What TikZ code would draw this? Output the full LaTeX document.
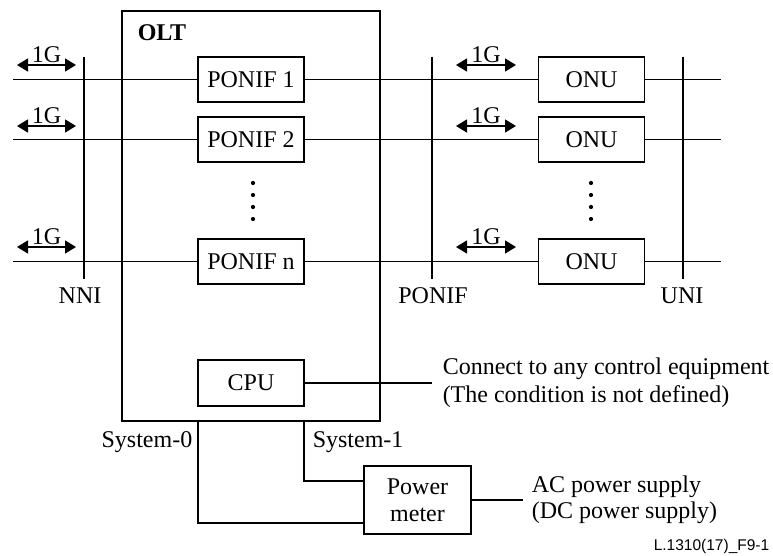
\documentclass[tikz,border=0pt]{standalone}
\usepackage{fontspec}
\setmainfont{Liberation Serif}
\newfontfamily\figfont{Liberation Sans}
\usetikzlibrary{arrows.meta}

\begin{document}
\begin{tikzpicture}
[x=1pt, y=-1pt, line width=1.5pt,
 every node/.style={inner sep=0pt, font=\fontsize{24}{28}\selectfont},
 unit/.style={rectangle, draw=black, line width=1.5pt, minimum width=106pt, minimum height=45pt},
 rate/.style={{Triangle[length=11pt,width=13pt]}-{Triangle[length=11pt,width=13pt]}, line width=1.5pt},
 dot/.style={circle, fill=black, minimum size=4.2pt}]
\useasboundingbox (0,0) rectangle (773,556);
% OLT frame
\node (olt) [rectangle, draw=black, line width=1.5pt, minimum width=258pt, minimum height=410pt] at (251, 216) {};
\node (oltlabel) [anchor=west] at (137, 33) {\textbf{OLT}};
% interface units
\node (p1) [unit] at (251, 79.5) {PONIF 1};
\node (p2) [unit] at (251, 139.5) {PONIF 2};
\node (pn) [unit] at (251, 261.5) {PONIF n};
\node (o1) [unit] at (591.5, 79.5) {ONU};
\node (o2) [unit] at (591.5, 139.5) {ONU};
\node (on) [unit] at (591.5, 261.5) {ONU};
\node (cpu) [unit, minimum height=46pt] at (251, 383) {CPU};
\node (pm) [unit, minimum width=107pt, minimum height=68pt, align=center, font=\fontsize{24}{27}\selectfont] at (417.5, 500) {Power\\meter};
% reference points
\coordinate (nnitop) at (84, 57);
\coordinate (nnibot) at (84, 279);
\coordinate (pontop) at (432, 57);
\coordinate (ponbot) at (432, 279);
\coordinate (unitop) at (683, 57);
\coordinate (unibot) at (683, 279);
\node (nni) at (80, 296) {NNI};
\node (ponif) at (433, 296) {PONIF};
\node (uni) at (682, 296) {UNI};
\draw (nnitop) -- (nnibot);
\draw (pontop) -- (ponbot);
\draw (unitop) -- (unibot);
% fibres
\foreach \p/\o/\y in {p1/o1/79.5, p2/o2/139.5, pn/on/261.5} {
  \coordinate (in\p) at (13, \y);
  \coordinate (out\o) at (721, \y);
  \draw (in\p) -- (\p);
  \draw (\p) -- (\o);
  \draw (\o) -- (out\o);
}
% rates
\foreach \y [count=\i] in {65, 126, 247} {
  \coordinate (la\i) at (17, \y);
  \coordinate (lb\i) at (76, \y);
  \coordinate (ra\i) at (456, \y);
  \coordinate (rb\i) at (516, \y);
  \draw [rate] (la\i) -- (lb\i) node [midway, above=1.5pt] {1G};
  \draw [rate] (ra\i) -- (rb\i) node [midway, above=1.5pt] {1G};
}
% ellipsis
\foreach \y in {183, 195, 207, 219} {
  \node [dot] at (253, \y) {};
  \node [dot] at (591, \y) {};
}
% control
\coordinate (ctl) at (432, 383);
\draw (cpu) -- (ctl);
\node (ctltext) [anchor=west, align=left] at (442, 383) {Connect to any control equipment\\(The condition is not defined)};
% power
\coordinate (s0) at (198, 421);
\coordinate (s1) at (304, 421);
\draw (s0) |- (pm.west |- 0, 523);
\draw (s1) |- (pm.west |- 0, 481);
\node (sys0) [anchor=east] at (193, 442) {System-0};
\node (sys1) [anchor=west] at (312, 442) {System-1};
\coordinate (ac) at (523, 500);
\draw (pm) -- (ac);
\node (actext) [anchor=west, align=left, font=\fontsize{24}{26}\selectfont] at (531, 500) {AC power supply\\(DC power supply)};
\node (fig) [anchor=east, font=\figfont\fontsize{15.5}{18}\selectfont] at (770, 546) {L.1310(17)\_F9-1};
\end{tikzpicture}
\end{document}
